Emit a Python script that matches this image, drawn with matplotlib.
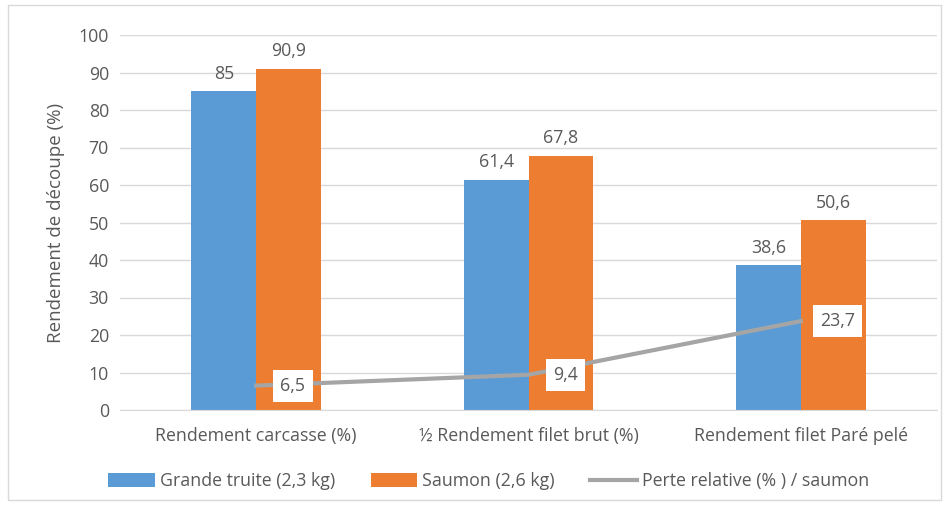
import matplotlib.pyplot as plt
import numpy as np
from matplotlib.patches import Rectangle

# Data
categories = ["Rendement carcasse (%)", "½ Rendement filet brut (%)", "Rendement filet Paré pelé"]
truite = [85, 61.4, 38.6]
saumon = [90.9, 67.8, 50.6]
perte = [6.5, 9.4, 23.7]

BLUE = "#5b9bd5"
ORANGE = "#ed7d31"
GRAY_LINE = "#a5a5a5"
TEXT = "#595959"
FS = 12.8

plt.rcParams['font.family'] = ['Open Sans', 'DejaVu Sans']

def fmt(v):
    s = f"{v:g}"
    return s.replace(".", ",")

fig = plt.figure(figsize=(9.49, 5.08), dpi=100)
ax = fig.add_axes([120 / 949, 1 - 410 / 508, 817 / 949, 375 / 508])

x = np.arange(len(categories))
w = 0.238
b1 = ax.bar(x - w / 2, truite, w, color=BLUE, label="Grande truite (2,3 kg)", zorder=2)
b2 = ax.bar(x + w / 2, saumon, w, color=ORANGE, label="Saumon (2,6 kg)", zorder=2)
ln, = ax.plot(x, perte, color=GRAY_LINE, lw=3, label="Perte relative (% ) / saumon", zorder=3)

for xi, v in zip(x - w / 2, truite):
    ax.text(xi, v + 2.3, fmt(v), ha="center", va="bottom", fontsize=FS, color=TEXT)
for xi, v in zip(x + w / 2, saumon):
    ax.text(xi, v + 2.3, fmt(v), ha="center", va="bottom", fontsize=FS, color=TEXT)
for xi, v in zip(x, perte):
    ax.text(xi + 0.135, v, fmt(v), ha="center", va="center", fontsize=FS, color=TEXT, zorder=4,
            bbox=dict(boxstyle="square,pad=0.4", fc="white", ec="none"))

ax.set_xlim(-0.5, 2.5)
ax.set_ylim(0, 100)
ax.set_yticks(range(0, 101, 10))
ax.yaxis.grid(True, color="#d9d9d9", lw=1, zorder=0)
ax.set_xticks(x)
ax.set_xticklabels(categories)
ax.tick_params(axis="both", length=0, labelsize=FS, colors=TEXT, pad=8)
ax.tick_params(axis="x", pad=12)
for s in ["top", "right", "left"]:
    ax.spines[s].set_visible(False)
ax.spines["bottom"].set_color("#d9d9d9")
ax.set_ylabel("Rendement de découpe (%)", fontsize=13.5, color=TEXT, labelpad=10)

fig.legend(handles=[b1, b2, ln], loc="center", bbox_to_anchor=(0.515, 1 - 481 / 508), ncol=3,
           frameon=False, fontsize=FS, labelcolor=TEXT, handlelength=2.6, handleheight=0.8,
           columnspacing=2.0, handletextpad=0.3)

fig.patches.append(Rectangle((8 / 949, 8 / 508), 933 / 949, 495 / 508, transform=fig.transFigure,
                             fill=False, ec="#d9d9d9", lw=1))

fig.savefig("out.png", dpi=100)
